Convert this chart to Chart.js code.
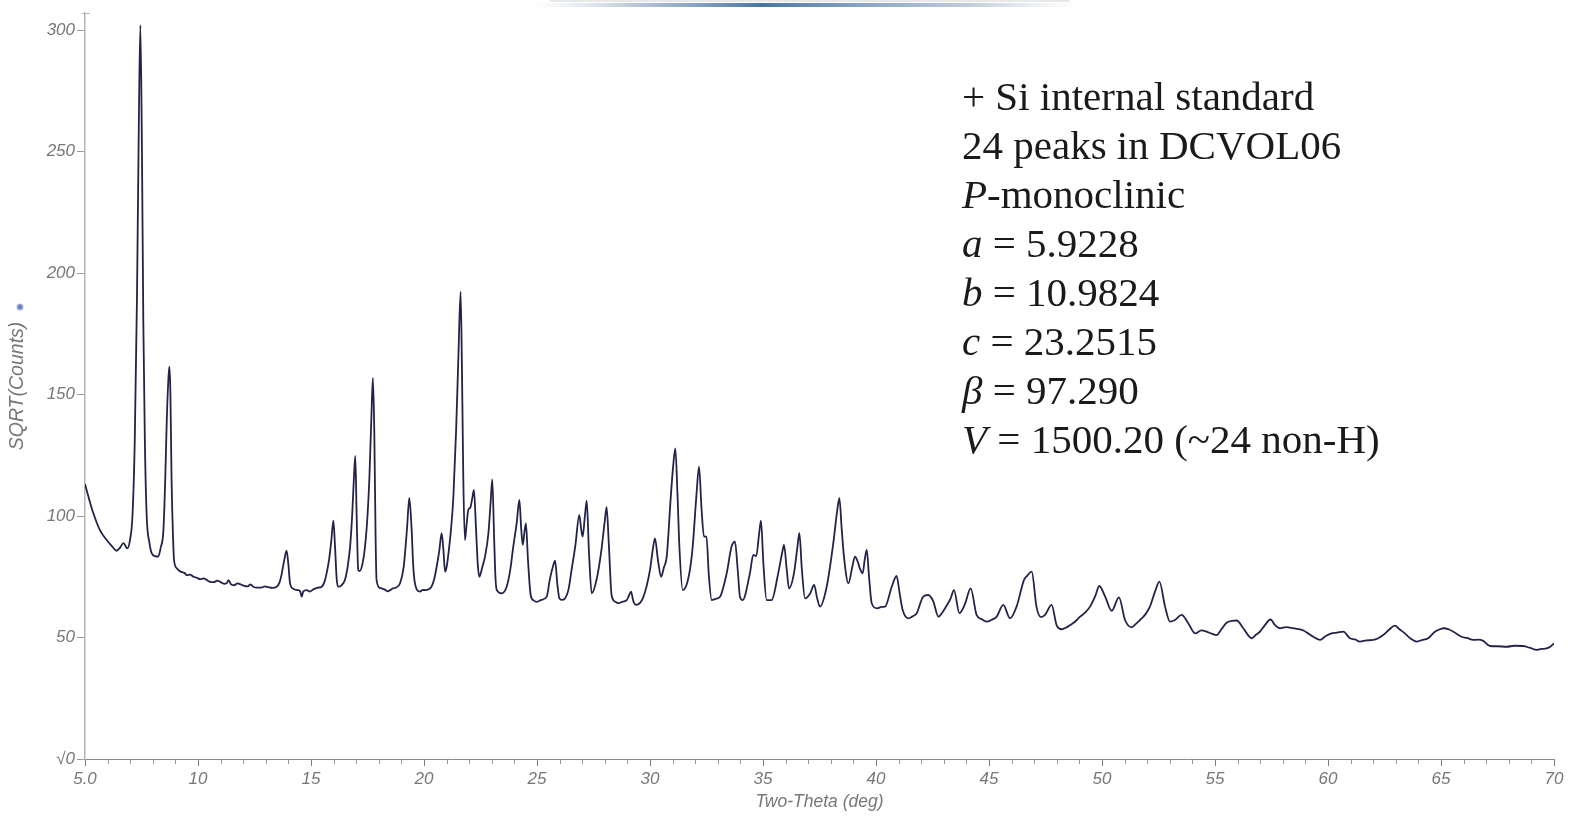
<!DOCTYPE html>
<html>
<head>
<meta charset="utf-8">
<style>
  html, body { margin: 0; padding: 0; background: #ffffff; }
  #wrap { width: 1572px; height: 817px; position: relative; }
</style>
<script src="https://cdn.jsdelivr.net/npm/chart.js@4.4.1/dist/chart.umd.min.js"></script>
</head>
<body>
<div id="wrap"><canvas id="xrd" width="1572" height="817"></canvas></div>
<script>
// Powder diffraction scan: two-theta (deg) against SQRT(counts)
const twoTheta = [
  5.00, 5.15, 5.37, 5.66, 5.96, 6.20, 6.40, 6.55, 6.70, 6.87, 6.99, 7.10, 7.20, 7.30, 7.38, 7.45, 7.52, 7.58, 7.65, 7.73,
  7.85, 7.95, 8.10, 8.24, 8.35, 8.47, 8.55, 8.62, 8.70, 8.74, 8.78, 8.83, 8.90, 8.94, 9.06, 9.25, 9.40, 9.50, 9.65, 9.80,
  9.95, 10.10, 10.25, 10.38, 10.55, 10.70, 10.85, 11.00, 11.15, 11.27, 11.35, 11.45, 11.60, 11.75, 11.90, 12.05, 12.20, 12.32, 12.45, 12.60,
  12.80, 12.95, 13.10, 13.30, 13.48, 13.60, 13.70, 13.80, 13.92, 14.00, 14.07, 14.22, 14.40, 14.52, 14.59, 14.66, 14.80, 14.95, 15.10, 15.30,
  15.47, 15.60, 15.69, 15.80, 15.90, 15.99, 16.06, 16.14, 16.21, 16.35, 16.50, 16.62, 16.73, 16.82, 16.90, 16.96, 17.02, 17.09, 17.15, 17.27,
  17.39, 17.50, 17.58, 17.67, 17.74, 17.80, 17.86, 17.90, 18.05, 18.25, 18.40, 18.50, 18.62, 18.75, 18.94, 19.10, 19.25, 19.35, 19.45, 19.52,
  19.60, 19.82, 19.95, 20.05, 20.27, 20.45, 20.56, 20.68, 20.78, 20.86, 20.93, 21.00, 21.10, 21.20, 21.30, 21.42, 21.52, 21.62, 21.68, 21.74,
  21.81, 21.88, 21.96, 22.05, 22.13, 22.21, 22.30, 22.38, 22.45, 22.58, 22.70, 22.85, 22.95, 23.02, 23.10, 23.16, 23.22, 23.44, 23.66, 23.82,
  23.95, 24.10, 24.22, 24.30, 24.37, 24.44, 24.51, 24.60, 24.72, 24.85, 24.99, 25.20, 25.43, 25.57, 25.70, 25.80, 25.90, 25.99, 26.10, 26.23,
  26.40, 26.53, 26.70, 26.87, 26.95, 27.02, 27.12, 27.20, 27.30, 27.42, 27.64, 27.85, 28.00, 28.08, 28.18, 28.30, 28.45, 28.60, 28.80, 28.97,
  29.08, 29.16, 29.26, 29.38, 29.70, 30.00, 30.12, 30.22, 30.35, 30.49, 30.62, 30.74, 30.92, 31.02, 31.12, 31.22, 31.30, 31.45, 31.64, 31.80,
  31.89, 32.05, 32.17, 32.28, 32.39, 32.50, 32.60, 32.73, 32.90, 33.10, 33.39, 33.61, 33.76, 33.88, 33.98, 34.10, 34.42, 34.57, 34.70, 34.82,
  34.91, 35.02, 35.16, 35.38, 35.67, 35.85, 35.93, 36.05, 36.15, 36.37, 36.52, 36.61, 36.72, 36.86, 37.08, 37.26, 37.40, 37.52, 37.82, 38.11,
  38.28, 38.38, 38.48, 38.58, 38.78, 38.95, 39.07, 39.20, 39.30, 39.41, 39.50, 39.59, 39.70, 39.81, 40.05, 40.25, 40.40, 40.70, 40.91, 41.05,
  41.18, 41.43, 41.60, 41.80, 42.09, 42.31, 42.53, 42.76, 42.95, 43.10, 43.30, 43.45, 43.69, 43.93, 44.19, 44.45, 44.70, 44.90, 45.10, 45.34,
  45.63, 45.93, 46.22, 46.55, 46.70, 46.89, 47.10, 47.30, 47.48, 47.77, 47.99, 48.22, 48.40, 48.59, 48.80, 49.03, 49.25, 49.47, 49.70, 49.88,
  50.14, 50.43, 50.75, 51.02, 51.31, 51.50, 51.68, 51.90, 52.12, 52.35, 52.54, 52.79, 53.01, 53.23, 53.52, 53.81, 54.12, 54.40, 54.63, 54.85,
  55.07, 55.30, 55.51, 55.75, 55.96, 56.25, 56.62, 56.80, 56.99, 57.20, 57.46, 57.65, 57.87, 58.15, 58.47, 58.70, 58.91, 59.10, 59.35, 59.65,
  59.90, 60.16, 60.40, 60.68, 60.97, 61.20, 61.41, 61.70, 62.00, 62.20, 62.44, 62.70, 62.96, 63.15, 63.40, 63.65, 63.92, 64.15, 64.43, 64.73,
  64.95, 65.13, 65.35, 65.55, 65.91, 66.15, 66.43, 66.65, 66.87, 67.17, 67.50, 67.90, 68.25, 68.64, 68.95, 69.23, 69.45, 69.67, 69.85, 70.00
];
const sqrtCounts = [
  113.2, 108.0, 101.1, 94.2, 90.1, 87.5, 85.7, 87.0, 88.8, 86.7, 90.1, 100.0, 130.0, 190.0, 260.0, 302.0, 250.0, 180.0, 130.0, 100.0,
  89.0, 84.7, 83.5, 83.3, 87.0, 94.2, 115.0, 140.0, 158.0, 161.5, 150.0, 115.0, 90.0, 81.9, 78.5, 77.0, 76.6, 75.7, 75.9, 75.0,
  74.6, 74.0, 74.3, 73.7, 72.9, 72.8, 73.4, 72.8, 72.1, 72.3, 73.6, 72.0, 71.5, 72.3, 71.8, 71.2, 71.0, 71.9, 70.9, 70.5,
  70.5, 71.0, 70.7, 70.4, 70.9, 72.5, 76.0, 81.0, 85.7, 80.0, 72.5, 70.0, 69.5, 69.0, 66.8, 69.0, 69.5, 68.9, 69.8, 70.5,
  70.9, 73.0, 76.4, 82.0, 90.0, 98.1, 88.0, 73.7, 70.9, 71.5, 73.7, 79.0, 87.4, 100.0, 116.0, 124.7, 100.0, 77.8, 77.3, 80.0,
  87.4, 100.0, 114.8, 140.0, 156.8, 135.0, 90.0, 73.7, 70.4, 69.8, 69.0, 69.5, 70.2, 70.5, 72.3, 79.0, 95.0, 107.4, 95.0, 80.0,
  72.3, 68.9, 69.6, 69.5, 70.2, 74.0, 79.1, 86.0, 92.9, 86.0, 77.1, 79.0, 86.0, 95.0, 107.9, 135.0, 165.0, 192.3, 160.0, 115.0,
  90.1, 96.0, 102.5, 103.5, 107.0, 110.7, 95.0, 80.0, 75.0, 79.0, 83.3, 92.9, 106.0, 115.1, 92.0, 75.0, 69.5, 68.2, 71.0, 78.0,
  87.4, 97.0, 106.6, 95.0, 88.1, 93.0, 97.0, 82.0, 67.5, 65.3, 64.7, 65.5, 66.8, 74.0, 79.0, 81.6, 72.0, 66.1, 65.5, 66.0,
  70.0, 77.8, 88.0, 100.4, 95.0, 91.5, 100.0, 106.3, 85.0, 68.2, 74.0, 86.0, 98.0, 103.6, 88.0, 67.5, 64.8, 64.1, 64.8, 65.4,
  67.5, 68.9, 65.0, 63.4, 66.5, 77.8, 86.0, 90.8, 82.0, 75.0, 79.0, 83.3, 108.0, 120.0, 127.8, 108.0, 87.4, 69.5, 72.3, 80.0,
  87.4, 108.0, 120.3, 103.0, 91.5, 91.5, 76.0, 65.4, 65.9, 66.8, 76.3, 87.4, 89.4, 78.0, 66.8, 65.4, 76.4, 84.0, 83.5, 92.0,
  98.1, 80.0, 65.4, 65.4, 76.3, 85.0, 88.1, 78.0, 70.2, 76.4, 87.0, 92.9, 78.0, 66.1, 68.0, 71.6, 66.0, 62.7, 71.0, 88.8,
  102.0, 107.3, 95.0, 83.5, 72.3, 79.0, 83.3, 81.0, 78.0, 76.4, 82.0, 86.0, 74.0, 64.1, 62.0, 62.6, 62.7, 71.0, 75.3, 68.0,
  61.3, 57.9, 58.6, 60.0, 66.8, 67.5, 65.0, 58.6, 60.5, 62.7, 66.0, 69.5, 60.0, 63.6, 70.2, 59.3, 57.4, 56.5, 57.2, 58.6,
  63.4, 57.9, 62.7, 73.7, 75.5, 77.1, 62.7, 58.4, 59.3, 63.4, 55.1, 53.4, 54.0, 55.1, 56.5, 58.6, 60.2, 62.7, 67.0, 71.2,
  66.8, 61.0, 66.5, 57.2, 54.2, 55.6, 57.2, 59.3, 62.7, 69.0, 73.0, 62.7, 56.5, 57.2, 59.3, 56.0, 51.7, 52.9, 52.4, 51.6,
  51.0, 53.6, 56.1, 56.8, 57.0, 53.8, 49.7, 51.0, 52.4, 55.0, 57.4, 55.2, 53.8, 54.3, 53.8, 53.4, 52.9, 51.8, 50.3, 49.0,
  50.6, 51.7, 52.0, 52.4, 49.7, 49.2, 48.3, 48.8, 49.0, 49.6, 51.0, 53.2, 54.9, 53.5, 51.7, 49.6, 48.3, 48.9, 49.7, 52.4,
  53.4, 53.8, 53.3, 52.4, 50.3, 49.8, 49.0, 49.1, 48.6, 46.5, 46.4, 46.2, 46.6, 46.5, 45.7, 44.9, 45.3, 45.5, 46.3, 47.6
];

// Axis tick values
const xMajorTicks = [5, 10, 15, 20, 25, 30, 35, 40, 45, 50, 55, 60, 65, 70];
const yTicks = [0, 50, 100, 150, 200, 250, 300];

// Cell refinement note
const noteLines = [
  [{ t: '+ Si internal standard' }],
  [{ t: '24 peaks in DCVOL06' }],
  [{ t: 'P', i: true }, { t: '-monoclinic' }],
  [{ t: 'a', i: true }, { t: ' = 5.9228' }],
  [{ t: 'b', i: true }, { t: ' = 10.9824' }],
  [{ t: 'c', i: true }, { t: ' = 23.2515' }],
  [{ t: 'β', i: true }, { t: ' = 97.290' }],
  [{ t: 'V', i: true }, { t: ' = 1500.20 (~24 non-H)' }]
];

const points = twoTheta.map((x, i) => ({ x: x, y: sqrtCounts[i] }));

const axisGrey = '#8a8a8a';
const labelGrey = '#777777';
const sansItalic = size => ({ family: '"Liberation Sans", Arial, sans-serif', size: size, style: 'italic' });

const decorations = {
  id: 'decorations',
  afterDraw(chart) {
    const ctx = chart.ctx;
    const xs = chart.scales.x;
    const ys = chart.scales.y;
    const yBase = ys.getPixelForValue(0);
    ctx.save();
    // minor ticks every degree
    ctx.strokeStyle = '#9a9a9a';
    ctx.lineWidth = 1;
    for (let v = Math.ceil(xs.min); v <= xs.max; v++) {
      if (v % 5 === 0) continue;
      const px = Math.round(xs.getPixelForValue(v)) + 0.5;
      ctx.beginPath();
      ctx.moveTo(px, yBase + 1);
      ctx.lineTo(px, yBase + 5);
      ctx.stroke();
    }
    // cap at the top of the value axis
    const axX = Math.round(ys.left + ys.width);
    const topY = Math.round(ys.getPixelForValue(ys.max)) + 0.5;
    ctx.strokeStyle = '#b4b4b4';
    ctx.beginPath();
    ctx.moveTo(axX - 3, topY);
    ctx.lineTo(axX + 5, topY);
    ctx.stroke();

    // series marker dot beside the axis title
    const g = ctx.createRadialGradient(20, 307, 0, 20, 307, 4);
    g.addColorStop(0, '#3d5fb8');
    g.addColorStop(1, 'rgba(120,140,210,0.5)');
    ctx.fillStyle = g;
    ctx.beginPath();
    ctx.arc(20, 307, 3.5, 0, Math.PI * 2);
    ctx.fill();

    // header strip along the top edge
    const hg = ctx.createLinearGradient(530, 0, 1080, 0);
    hg.addColorStop(0, 'rgba(200,210,220,0)');
    hg.addColorStop(0.2, 'rgba(150,170,195,0.7)');
    hg.addColorStop(0.42, 'rgba(60,110,160,0.95)');
    hg.addColorStop(0.8, 'rgba(150,170,195,0.6)');
    hg.addColorStop(1, 'rgba(200,210,220,0)');
    ctx.fillStyle = hg;
    ctx.fillRect(530, 3, 550, 4);
    ctx.fillStyle = 'rgba(190,190,190,0.35)';
    ctx.fillRect(550, 0, 520, 2);

    // refinement note
    ctx.fillStyle = '#1a1a1a';
    ctx.textBaseline = 'alphabetic';
    ctx.textAlign = 'left';
    const size = 41;
    noteLines.forEach((parts, li) => {
      let x = 962;
      const y = 110 + li * 49;
      parts.forEach(p => {
        ctx.font = (p.i ? 'italic ' : '') + size + 'px "Liberation Serif", "Times New Roman", serif';
        ctx.fillText(p.t, x, y);
        x += ctx.measureText(p.t).width;
      });
    });
    ctx.restore();
  }
};

new Chart(document.getElementById('xrd'), {
  type: 'line',
  data: {
    datasets: [{
      data: points,
      borderColor: '#23234a',
      borderWidth: 1.8,
      pointRadius: 0,
      fill: false,
      cubicInterpolationMode: 'monotone'
    }]
  },
  options: {
    responsive: false,
    animation: false,
    layout: { padding: { left: 0, top: 13, right: 18, bottom: 0 } },
    plugins: { legend: { display: false }, tooltip: { enabled: false } },
    scales: {
      x: {
        type: 'linear',
        min: 5,
        max: 70,
        afterFit: s => { s.height = 58; },
        afterBuildTicks: s => { s.ticks = xMajorTicks.map(v => ({ value: v })); },
        ticks: {
          autoSkip: false,
          maxRotation: 0,
          padding: 3,
          color: labelGrey,
          font: sansItalic(17),
          callback: v => (v === 5 ? '5.0' : String(v))
        },
        grid: { drawOnChartArea: false, drawTicks: true, tickLength: 7, color: '#7a7a7a', tickColor: '#7a7a7a' },
        border: { display: true, color: axisGrey, width: 1 },
        title: {
          display: true,
          text: 'Two-Theta (deg)',
          color: labelGrey,
          font: sansItalic(17.5),
          padding: { top: 0, bottom: 4 }
        }
      },
      y: {
        type: 'linear',
        min: 0,
        max: 307,
        afterFit: s => { s.width = 85; },
        afterBuildTicks: s => { s.ticks = yTicks.map(v => ({ value: v })); },
        ticks: {
          autoSkip: false,
          padding: 2,
          color: labelGrey,
          font: sansItalic(17),
          callback: v => (v === 0 ? '√0' : String(v))
        },
        grid: { drawOnChartArea: false, drawTicks: true, tickLength: 8, color: '#9a9a9a', tickColor: '#9a9a9a' },
        border: { display: true, color: '#b4b4b4', width: 1.5 },
        title: {
          display: true,
          text: 'SQRT(Counts)',
          color: labelGrey,
          font: sansItalic(19.5),
          padding: { top: 6, bottom: 0 }
        }
      }
    }
  },
  plugins: [decorations]
});
</script>
</body>
</html>
